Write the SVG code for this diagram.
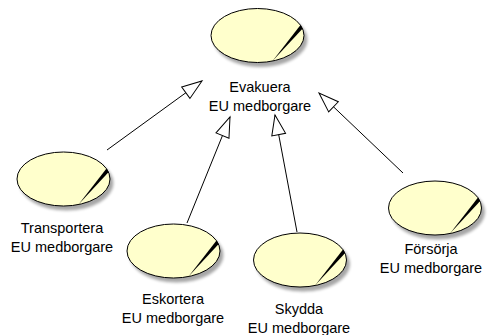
<svg xmlns="http://www.w3.org/2000/svg" xmlns:xlink="http://www.w3.org/1999/xlink" width="494" height="335" viewBox="0 0 494 335">
<defs>
<style>
.uc{fill:#FFFFCC;stroke:#000;stroke-width:1}
.slash{fill:#000;stroke:none}
.lbl{font-family:"Liberation Sans",Arial,sans-serif;font-size:14.5px;fill:#000;text-anchor:middle}
.conn{fill:none;stroke:#000;stroke-width:1;marker-end:url(#tri)}
</style>
<filter id="sh" x="-20%" y="-20%" width="150%" height="160%">
<feOffset in="SourceAlpha" dx="3" dy="4" result="o"/>
<feGaussianBlur in="o" stdDeviation="1.8" result="b"/>
<feComponentTransfer in="b" result="c"><feFuncA type="linear" slope="0.35"/></feComponentTransfer>
<feMerge><feMergeNode in="c"/><feMergeNode in="SourceGraphic"/></feMerge>
</filter>
<g id="usecase">
<ellipse class="uc" cx="0" cy="0" rx="46.5" ry="27" filter="url(#sh)"/>
<polygon class="slash" points="15,25.5 43,-10.5 45.2,-7"/>
</g>
<marker id="tri" markerUnits="userSpaceOnUse" markerWidth="22" markerHeight="16" refX="20" refY="7" orient="auto" overflow="visible">
<path d="M0,0 L20,7 L0,14 Z" fill="#fff" stroke="#000" stroke-width="1"/>
</marker>
</defs>
<rect width="494" height="335" fill="#fff"/>
<g id="connectors">
<line class="conn" x1="107" y1="150" x2="202" y2="81"/>
<line class="conn" x1="187" y1="223" x2="230" y2="117"/>
<line class="conn" x1="297" y1="232" x2="275" y2="115"/>
<line class="conn" x1="403" y1="173" x2="319" y2="93"/>
</g>
<g id="evakuera">
<use xlink:href="#usecase" x="257.5" y="35.5"/>
<text class="lbl" x="260" y="92">Evakuera</text>
<text class="lbl" x="260" y="111">EU medborgare</text>
</g>
<g id="transportera">
<use xlink:href="#usecase" x="63.5" y="179"/>
<text class="lbl" x="62" y="233">Transportera</text>
<text class="lbl" x="62" y="252">EU medborgare</text>
</g>
<g id="eskortera">
<use xlink:href="#usecase" x="173.5" y="251"/>
<text class="lbl" x="173" y="304">Eskortera</text>
<text class="lbl" x="173" y="323">EU medborgare</text>
</g>
<g id="skydda">
<use xlink:href="#usecase" x="300" y="260"/>
<text class="lbl" x="299" y="314">Skydda</text>
<text class="lbl" x="299" y="333">EU medborgare</text>
</g>
<g id="forsorja">
<use xlink:href="#usecase" x="435" y="208"/>
<text class="lbl" x="431" y="254">Försörja</text>
<text class="lbl" x="431" y="273">EU medborgare</text>
</g>
</svg>
